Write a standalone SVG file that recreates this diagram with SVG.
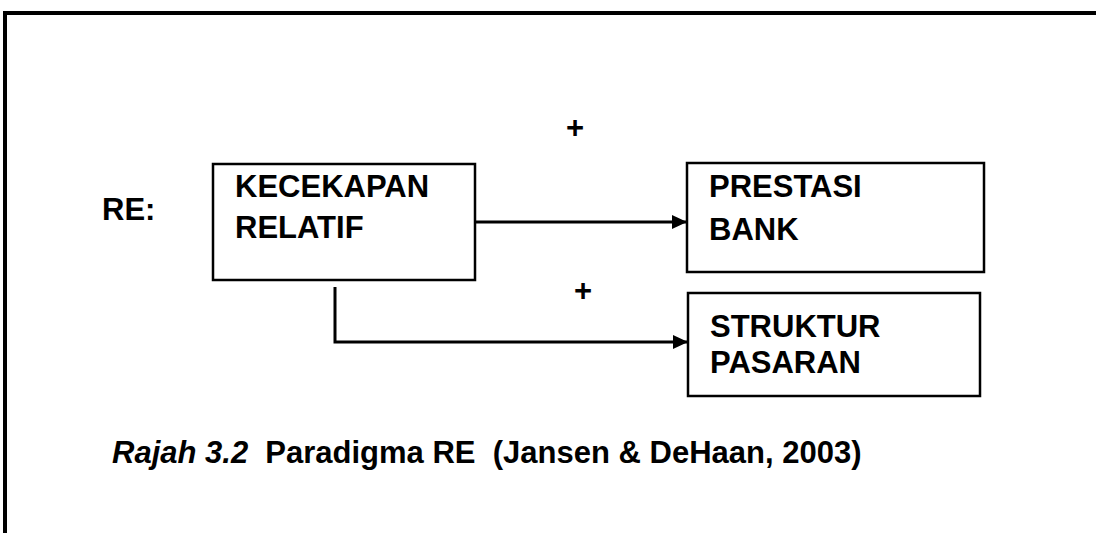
<svg xmlns="http://www.w3.org/2000/svg" width="1096" height="533" viewBox="0 0 1096 533">
  <style>
    .box { fill: #fff; stroke: #000; stroke-width: 2.5; }
    .lbl { font-family: "Liberation Sans", Arial, sans-serif; font-weight: bold; font-size: 31px; fill: #000; }
    .conn { fill: none; stroke: #000; stroke-width: 3; }
  </style>
  <defs>
    <marker id="arr" viewBox="0 0 15 14" refX="15" refY="7" markerWidth="15" markerHeight="14" markerUnits="userSpaceOnUse" orient="auto">
      <path d="M0,0 L15,7 L0,14 Z" fill="#000"/>
    </marker>
  </defs>
  <rect width="1096" height="533" fill="#fff"/>
  <g id="frame">
    <path d="M5,533 V13 H1096" fill="none" stroke="#000" stroke-width="4"/>
  </g>
  <g id="re-label">
    <text class="lbl" x="102" y="220">RE:</text>
  </g>
  <g id="node-kecekapan">
    <rect class="box" x="213" y="164" width="262" height="116"/>
    <text class="lbl" x="235" y="197">KECEKAPAN</text>
    <text class="lbl" x="235" y="238">RELATIF</text>
  </g>
  <g id="node-prestasi">
    <rect class="box" x="687" y="163" width="297" height="109"/>
    <text class="lbl" x="709" y="197">PRESTASI</text>
    <text class="lbl" x="709" y="240">BANK</text>
  </g>
  <g id="node-struktur">
    <rect class="box" x="688" y="293" width="292" height="103"/>
    <text class="lbl" x="710" y="337">STRUKTUR</text>
    <text class="lbl" x="710" y="373">PASARAN</text>
  </g>
  <g id="connectors">
    <path class="conn" d="M475,222 H687" marker-end="url(#arr)"/>
    <path class="conn" d="M335,287 V342 H688" marker-end="url(#arr)"/>
    <text class="lbl" x="575" y="138" text-anchor="middle">+</text>
    <text class="lbl" x="583" y="301" text-anchor="middle">+</text>
  </g>
  <g id="caption">
    <text class="lbl" x="112" y="463" xml:space="preserve"><tspan font-style="italic">Rajah 3.2</tspan>  Paradigma RE  (Jansen &amp; DeHaan, 2003)</text>
  </g>
</svg>
